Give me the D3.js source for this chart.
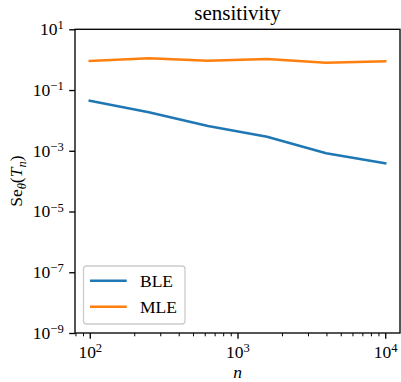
<!DOCTYPE html>
<html>
<head>
<meta charset="utf-8">
<script src="https://cdn.jsdelivr.net/npm/d3@7"></script>
<style>
  body { margin: 0; background: #fff; }
</style>
</head>
<body>
<div id="chart"></div>
<script>
// data
const nValues = [100, 251, 631, 1585, 3981, 10000];
const bleValues = [0.0446, 0.0185, 0.00655, 0.00291, 0.000826, 0.000387];
const mleValues = [0.90, 1.11, 0.92, 1.05, 0.79, 0.88];
const seriesNames = ["BLE", "MLE"];
const seriesColors = ["#1f77b4", "#ff7f0e"];
const xTickExps = [2, 3, 4];
const yTickExps = [1, -1, -3, -5, -7, -9];

const W = 401, H = 382;
const mLeft = 75, mRight = 400, mTop = 29.3, mBottom = 333;
const fs = 17.5;
const FONT = "'Liberation Serif', serif";

const svg = d3.select("#chart").append("svg")
  .attr("width", W).attr("height", H)
  .attr("font-family", FONT);

const x = d3.scaleLog().domain([Math.pow(10, 1.9), Math.pow(10, 4.1)]).range([mLeft, mRight]);
const y = d3.scaleLog().domain([1e-9, 10]).range([mBottom, mTop]);

// superscript labels like 10^-3
function powLabel(sel, e) {
  sel.text(null);
  sel.append("tspan").text("10");
  sel.append("tspan")
    .attr("dy", "-0.45em")
    .attr("font-size", "0.72em")
    .text(String(e).replace("-", "\u2212"));
}

// minor x ticks
const minor = [];
[1, 2, 3].forEach(k => {
  for (let m = 2; m <= 9; m++) {
    const v = m * Math.pow(10, k);
    if (v >= x.domain()[0] && v <= x.domain()[1]) minor.push(v);
  }
});

const xAxis = svg.append("g")
  .attr("transform", `translate(0,${mBottom})`)
  .call(d3.axisBottom(x).tickValues(minor).tickSize(3.3).tickFormat(""));
xAxis.select(".domain").remove();
xAxis.selectAll("line").attr("stroke", "#000").attr("stroke-width", 1);

const xMajor = svg.append("g")
  .attr("transform", `translate(0,${mBottom})`)
  .call(d3.axisBottom(x).tickValues(xTickExps.map(e => Math.pow(10, e))).tickSize(5.8).tickPadding(5));
xMajor.attr("font-family", FONT);
xMajor.select(".domain").remove();
xMajor.selectAll("line").attr("stroke", "#000").attr("stroke-width", 1.33);
xMajor.selectAll("text")
  .attr("font-size", fs)
  .attr("font-family", FONT)
  .attr("dy", "0.8em")
  .each(function (d) { powLabel(d3.select(this), Math.round(Math.log10(d))); });

const yAxis = svg.append("g")
  .attr("transform", `translate(${mLeft},0)`)
  .call(d3.axisLeft(y).tickValues(yTickExps.map(e => Math.pow(10, e))).tickSize(5.8).tickPadding(5.5));
yAxis.attr("font-family", FONT);
yAxis.select(".domain").remove();
yAxis.selectAll("line").attr("stroke", "#000").attr("stroke-width", 1.33);
yAxis.selectAll("text")
  .attr("font-size", fs)
  .attr("font-family", FONT)
  .attr("dy", "0.3em")
  .each(function (d) { powLabel(d3.select(this), Math.round(Math.log10(d))); });

// lines
const line = d3.line().x(d => x(d[0])).y(d => y(d[1]));
[bleValues, mleValues].forEach((vals, i) => {
  svg.append("path")
    .datum(nValues.map((n, j) => [n, vals[j]]))
    .attr("fill", "none")
    .attr("stroke", seriesColors[i])
    .attr("stroke-width", 2.5)
    .attr("stroke-linejoin", "round")
    .attr("stroke-linecap", "square")
    .attr("d", line);
});

// frame
svg.append("rect")
  .attr("x", mLeft).attr("y", mTop)
  .attr("width", mRight - mLeft).attr("height", mBottom - mTop)
  .attr("fill", "none").attr("stroke", "#000").attr("stroke-width", 1.33);

// title and axis labels
svg.append("text")
  .attr("x", (mLeft + mRight) / 2).attr("y", 20)
  .attr("text-anchor", "middle").attr("font-size", 21)
  .attr("font-family", FONT)
  .text("sensitivity");

svg.append("text")
  .attr("x", (mLeft + mRight) / 2).attr("y", 378)
  .attr("text-anchor", "middle").attr("font-size", fs)
  .attr("font-family", FONT)
  .attr("font-style", "italic")
  .text("n");

const yl = svg.append("text")
  .attr("transform", `translate(22,${(mTop + mBottom) / 2}) rotate(-90)`)
  .attr("text-anchor", "middle").attr("font-size", fs)
  .attr("font-family", FONT);
yl.append("tspan").text("Se");
yl.append("tspan").attr("font-style", "italic").attr("font-size", "0.72em").attr("dy", "0.3em").text("θ");
yl.append("tspan").attr("dy", "-0.22em").text("(");
yl.append("tspan").attr("font-style", "italic").text("T");
yl.append("tspan").attr("font-style", "italic").attr("font-size", "0.72em").attr("dy", "0.3em").text("n");
yl.append("tspan").attr("dy", "-0.22em").text(")");

// legend
const lg = svg.append("g");
lg.append("rect")
  .attr("x", 83.5).attr("y", 266)
  .attr("width", 101.5).attr("height", 58)
  .attr("rx", 3)
  .attr("fill", "#fff").attr("fill-opacity", 0.8)
  .attr("stroke", "#cccccc").attr("stroke-width", 1.33);
seriesNames.forEach((name, i) => {
  const ly = 280.7 + i * 26;
  lg.append("line")
    .attr("x1", 90).attr("x2", 126.7)
    .attr("y1", ly).attr("y2", ly)
    .attr("stroke", seriesColors[i]).attr("stroke-width", 2.5);
  lg.append("text")
    .attr("x", 140).attr("y", ly + 6)
    .attr("font-size", fs)
    .attr("font-family", FONT)
    .text(name);
});
</script>
</body>
</html>
